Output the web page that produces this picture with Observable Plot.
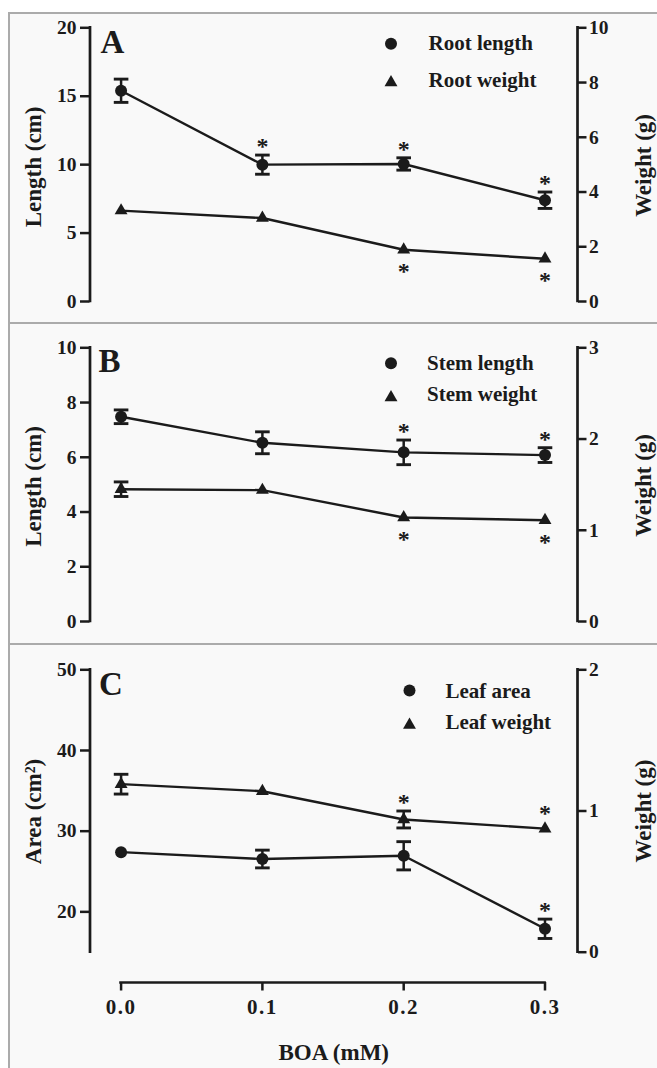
<!DOCTYPE html>
<html><head><meta charset="utf-8">
<script src="https://cdn.jsdelivr.net/npm/d3@7"></script>
<script src="https://cdn.jsdelivr.net/npm/@observablehq/plot@0.6"></script>
<style>
body{margin:0;background:#fff;}
#page{position:relative;width:657px;height:1068px;overflow:hidden;}
#page svg, #page svg text{font-family:"Liberation Serif","Times New Roman",serif !important;font-weight:bold;}
.box{position:absolute;left:8px;top:12px;width:700px;height:1100px;background:#f9f9f9;border-left:2px solid #ababab;border-top:2px solid #ababab;}
.sep{position:absolute;left:8px;width:700px;height:2px;background:#ababab;}
.layer{position:absolute;left:0;}
</style></head><body>
<div id="page">
  <div class="box"></div>
  <div class="sep" style="top:321.5px"></div>
  <div class="sep" style="top:642.5px"></div>
</div>
<script>
// ---------- data ----------
const doses = [0, 0.1, 0.2, 0.3];
const xTickLabels = ["0.0", "0.1", "0.2", "0.3"];
const xTitle = "BOA (mM)";

// Panel A
const rootLength = [15.4, 10.0, 10.05, 7.4];
const rootLengthErr = [0.85, 0.7, 0.45, 0.6];
const rootLengthSig = [false, true, true, true];
const rootWeight = [3.32, 3.05, 1.89, 1.56];
const rootWeightErr = [0, 0, 0, 0];
const rootWeightSig = [false, false, true, true];
const aLeftTicks = [0, 5, 10, 15, 20];
const aRightTicks = [0, 2, 4, 6, 8, 10];

// Panel B
const stemLength = [7.48, 6.53, 6.18, 6.08];
const stemLengthErr = [0.25, 0.4, 0.45, 0.27];
const stemLengthSig = [false, false, true, true];
const stemWeight = [1.45, 1.44, 1.14, 1.11];
const stemWeightErr = [0.08, 0, 0, 0];
const stemWeightSig = [false, false, true, true];
const bLeftTicks = [0, 2, 4, 6, 8, 10];
const bRightTicks = [0, 1, 2, 3];

// Panel C
const leafArea = [27.4, 26.55, 26.95, 17.9];
const leafAreaErr = [0, 1.1, 1.75, 1.2];
const leafAreaSig = [false, false, false, true];
const leafWeight = [1.19, 1.14, 0.94, 0.875];
const leafWeightErr = [0.07, 0, 0.06, 0];
const leafWeightSig = [false, false, true, true];
const cLeftTicks = [20, 30, 40, 50];
const cRightTicks = [0, 1, 2];

// ---------- layout ----------
const W = 657, ML = 89.5, MR = 80;
const xDomain = [-0.022, 0.323];
const INK = "#1b1b1b";
const FONT = "Liberation Serif";
const page = document.getElementById("page");

const capSymbol = {draw(ctx, size) { const r = Math.sqrt(size / Math.PI); ctx.moveTo(-r, 0); ctx.lineTo(r, 0); }};

function makeLayer(o) {
  const rows = doses.map((d, i) => ({dose: d, v: o.values[i], e: o.errs[i], sig: o.sigs[i]}));
  const withErr = rows.filter(d => d.e > 0);
  const starsErr = rows.filter(d => d.sig && d.e > 0);
  const starsNoErr = rows.filter(d => d.sig && d.e === 0);
  const below = o.starSide === "below";
  const left = o.anchor === "left";
  const marks = [
    Plot.ruleX([left ? xDomain[0] : xDomain[1]], {y1: () => o.domain[0], y2: () => o.domain[1], stroke: INK, strokeWidth: 2.7, strokeLinecap: "square"}),
    Plot.axisY({anchor: o.anchor, ticks: o.ticks, tickFormat: d => String(d), tickSize: left ? 9.5 : 8.5, tickPadding: left ? 4 : 3, stroke: INK, strokeWidth: 2.5, fontSize: 19.5, fill: INK, label: null}),
    Plot.line(rows, {x: "dose", y: "v", stroke: INK, strokeWidth: 2.4}),
    Plot.ruleX(withErr, {x: "dose", y1: d => d.v - d.e, y2: d => d.v + d.e, stroke: INK, strokeWidth: 2.5}),
    Plot.dot(withErr, {x: "dose", y: d => d.v + d.e, symbol: capSymbol, r: 7.3, fill: "none", stroke: INK, strokeWidth: 2.9}),
    Plot.dot(withErr, {x: "dose", y: d => d.v - d.e, symbol: capSymbol, r: 7.3, fill: "none", stroke: INK, strokeWidth: 2.9}),
    Plot.dot(rows, {x: "dose", y: "v", symbol: o.symbol, r: o.r, fill: INK}),
    Plot.text(starsErr, {x: "dose", y: d => below ? d.v - d.e : d.v + d.e, text: () => "*", fontSize: 24, dy: below ? 22 : -8.5, fill: INK}),
    Plot.text(starsNoErr, {x: "dose", y: "v", text: () => "*", fontSize: 24, dy: below ? 22 : -15.5, fill: INK}),
    Plot.dot([o.legend], {frameAnchor: "top-left", dx: o.legSymDx, dy: o.legSymDy, symbol: o.symbol, r: o.r, fill: INK}),
    Plot.text([o.legend], {frameAnchor: "top-left", dx: o.legTextDx, dy: o.legTextDy, text: d => d, textAnchor: "start", lineAnchor: "middle", fontSize: 21, fill: INK, ariaLabel: "legend"}),
    Plot.text([o.title], {frameAnchor: o.anchor, rotate: -90, dx: o.titleDx, dy: o.titleDy, text: d => d, textAnchor: "middle", lineAnchor: "middle", fontSize: 23, fill: INK, ariaLabel: "title"})
  ];
  if (o.letter) marks.push(Plot.text([o.letter], {frameAnchor: "top-left", dx: o.letterDx, dy: o.letterDy, text: d => d, textAnchor: "start", lineAnchor: "middle", fontSize: 33, fill: INK}));
  const svg = Plot.plot({
    width: W, height: o.height, marginLeft: ML, marginRight: MR, marginTop: o.mt, marginBottom: o.mb,
    x: {domain: xDomain, axis: null, label: null},
    y: {domain: [o.domain[0], o.domain[1]], label: null, axis: null},
    style: {fontFamily: FONT, fontWeight: "bold", fontSize: "19px", color: INK, background: "transparent", overflow: "visible"},
    marks
  });
  d3.select(svg).selectAll('g[aria-label="legend"] text').style("letter-spacing", "1.5px");
  d3.select(svg).selectAll('g[aria-label="title"] text').style("letter-spacing", "1.5px");
  const div = document.createElement("div");
  div.className = "layer";
  div.style.top = o.top + "px";
  div.appendChild(svg);
  page.appendChild(div);
}

function makePanel(p) {
  makeLayer({...p.common, ...p.left, anchor: "left", letter: p.letter, letterDx: p.letterDx, letterDy: p.letterDy});
  makeLayer({...p.common, ...p.right, anchor: "right"});
}

// Panel A
makePanel({
  common: {top: 0, height: 322, mt: 27.3, mb: 21},
  letter: "A", letterDx: 10.5, letterDy: 14.4,
  left: {values: rootLength, errs: rootLengthErr, sigs: rootLengthSig, starSide: "above", domain: [0, 20], ticks: aLeftTicks,
    symbol: "circle", r: 6, legend: "Root length", legSymDx: 301, legSymDy: 16, legTextDx: 338.5, legTextDy: 15.7,
    title: "Length (cm)", titleDx: -56, titleDy: 2.3},
  right: {values: rootWeight, errs: rootWeightErr, sigs: rootWeightSig, starSide: "below", domain: [0, 10], ticks: aRightTicks,
    symbol: "triangle", r: 4.8, legend: "Root weight", legSymDx: 301, legSymDy: 54.6, legTextDx: 338.5, legTextDy: 52.4,
    title: "Weight (g)", titleDx: 66, titleDy: 0.8}
});

// Panel B
makePanel({
  common: {top: 323, height: 320, mt: 24.3, mb: 22},
  letter: "B", letterDx: 8.5, letterDy: 13.8,
  left: {values: stemLength, errs: stemLengthErr, sigs: stemLengthSig, starSide: "above", domain: [0, 10], ticks: bLeftTicks,
    symbol: "circle", r: 6, legend: "Stem length", legSymDx: 301, legSymDy: 15.4, legTextDx: 337, legTextDy: 15.2,
    title: "Length (cm)", titleDx: -56, titleDy: 1.8},
  right: {values: stemWeight, errs: stemWeightErr, sigs: stemWeightSig, starSide: "below", domain: [0, 3], ticks: bRightTicks,
    symbol: "triangle", r: 4.8, legend: "Stem weight", legSymDx: 301, legSymDy: 49.6, legTextDx: 337, legTextDy: 46.9,
    title: "Weight (g)", titleDx: 66, titleDy: 0.8}
});

// Panel C
makePanel({
  common: {top: 644, height: 330, mt: 25.3, mb: 22.3},
  letter: "C", letterDx: 9, letterDy: 15.1,
  left: {values: leafArea, errs: leafAreaErr, sigs: leafAreaSig, starSide: "above", domain: [15, 50], ticks: cLeftTicks,
    symbol: "circle", r: 6, legend: "Leaf area", legSymDx: 319.5, legSymDy: 20.7, legTextDx: 355.5, legTextDy: 21,
    title: "Area (cm²)", titleDx: -56.5, titleDy: 0.5},
  right: {values: leafWeight, errs: leafWeightErr, sigs: leafWeightSig, starSide: "above", domain: [0, 2], ticks: cRightTicks,
    symbol: "triangle", r: 4.8, legend: "Leaf weight", legSymDx: 319.5, legSymDy: 55.1, legTextDx: 355.5, legTextDy: 52.7,
    title: "Weight (g)", titleDx: 66, titleDy: 0}
});

// X axis (below panel C)
{
  const svg = Plot.plot({
    width: W, height: 88, marginLeft: ML, marginRight: MR, marginTop: 2, marginBottom: 85,
    x: {domain: xDomain, label: null},
    y: {domain: [0, 1], axis: null, label: null},
    style: {fontFamily: FONT, fontWeight: "bold", fontSize: "20px", color: INK, background: "transparent", overflow: "visible"},
    marks: [
      Plot.ruleY([0], {x1: () => doses[0], x2: () => doses[doses.length - 1], stroke: INK, strokeWidth: 2.7, strokeLinecap: "square"}),
      Plot.axisX({ticks: doses, tickFormat: d => xTickLabels[doses.indexOf(d)], tickSize: 8.5, tickPadding: 8, stroke: INK, strokeWidth: 2.5, fontSize: 21, fill: INK, label: null}),
      Plot.text([xTitle], {frameAnchor: "bottom", dy: 70, text: d => d, lineAnchor: "middle", fontSize: 23, fill: INK, ariaLabel: "title"})
    ]
  });
  d3.select(svg).selectAll('g[aria-label="title"] text').style("letter-spacing", "1.8px");
  d3.select(svg).selectAll('g[aria-label="x-axis tick label"] text').style("letter-spacing", "1.5px");
  const div = document.createElement("div");
  div.className = "layer";
  div.style.top = "979px";
  div.appendChild(svg);
  page.appendChild(div);
}
</script>
</body></html>
